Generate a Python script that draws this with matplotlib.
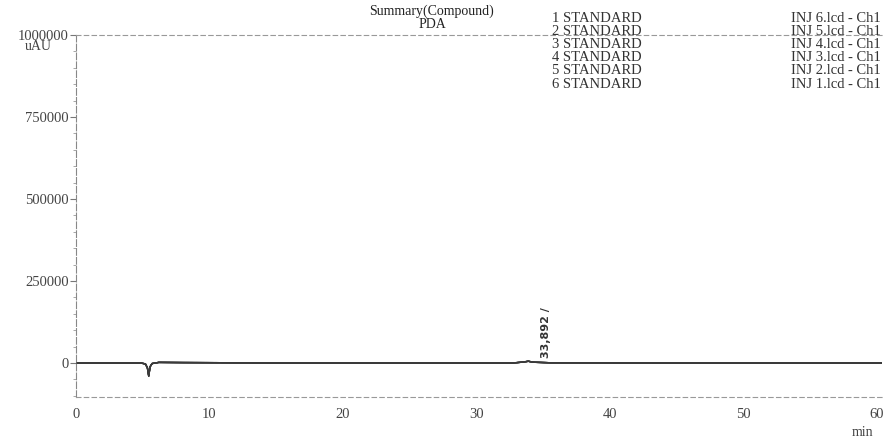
import numpy as np
import matplotlib.pyplot as plt
from matplotlib.ticker import MultipleLocator

# retention time (min) and detector signal (uAU)
time_min = [0.0, 4.8, 5.2, 5.35, 5.45, 5.55, 5.7, 6.2, 8.0, 15.0, 25.0,
            32.8, 33.5, 33.892, 34.3, 35.5, 45.0, 55.0, 60.4]
signal = [0, 0, -3000, -15000, -40000, -12000, -2000, 1500, 1000, 0, 0,
          0, 2500, 5000, 2000, 500, 0, 0, 0]

peak_rt = 33.892
peak_label = '33,892 /'

samples = ['1 STANDARD', '2 STANDARD', '3 STANDARD',
           '4 STANDARD', '5 STANDARD', '6 STANDARD']
files = ['INJ 6.lcd - Ch1', 'INJ 5.lcd - Ch1', 'INJ 4.lcd - Ch1',
         'INJ 3.lcd - Ch1', 'INJ 2.lcd - Ch1', 'INJ 1.lcd - Ch1']

yticks = [0, 250000, 500000, 750000, 1000000]
xticks = [0, 10, 20, 30, 40, 50, 60]

plt.rcParams['font.family'] = ['Liberation Serif', 'DejaVu Serif']

fig = plt.figure(figsize=(8.89, 4.41), dpi=100)
W, H = 889., 441.
ax = fig.add_axes([76/W, 1-397/H, (882-76)/W, (397-35)/H])

# six overlaid runs, practically identical
for k in range(len(samples)):
    ax.plot(time_min, signal, color='#3a3a3a', lw=1.0)

ax.set_xlim(0, 60.4)
ax.set_ylim(-104000, 1000000)
ax.set_xticks(xticks)
ax.set_yticks(yticks)
ax.set_yticklabels([str(v) for v in yticks])
ax.yaxis.set_minor_locator(MultipleLocator(50000))

ax.tick_params(axis='y', which='major', direction='out', length=4, color='#777777',
               labelcolor='#444444', labelsize=10.5, pad=1)
ax.tick_params(axis='y', which='minor', direction='out', length=2, color='#999999')
ax.tick_params(axis='x', which='major', direction='out', length=0, labelcolor='#444444',
               labelsize=10.5, pad=8)

for side in ['top', 'bottom']:
    ax.spines[side].set_linestyle((0, (4, 3)))
    ax.spines[side].set_color('#999999')
    ax.spines[side].set_linewidth(0.8)
ax.spines['left'].set_color('#888888')
ax.spines['left'].set_linestyle((0, (6, 2)))
ax.spines['left'].set_linewidth(0.8)
ax.spines['right'].set_visible(False)

# peak annotation
ax.text(peak_rt + 1.3, 14000, peak_label, rotation=90, ha='center', va='bottom',
        fontsize=8, fontweight='bold', color='#333333', family='DejaVu Sans')

# sample legend
for i, (s, f) in enumerate(zip(samples, files)):
    yy = 1 - (18 + 13.2 * i) / H
    fig.text(552/W, yy, s, ha='left', va='center', fontsize=10.5, color='#333333')
    fig.text(881/W, yy, f, ha='right', va='center', fontsize=10.5, color='#333333')

fig.text(432/W, 1-11/H, 'Summary(Compound)', ha='center', va='center', fontsize=10, color='#222222')
fig.text(432/W, 1-24/H, 'PDA', ha='center', va='center', fontsize=10, color='#222222')
fig.text(38/W, 1-47/H, 'uAU', ha='center', va='center', fontsize=10, color='#444444')
fig.text(862/W, 1-432/H, 'min', ha='center', va='center', fontsize=10, color='#444444')

fig.savefig('out.png', dpi=100)
